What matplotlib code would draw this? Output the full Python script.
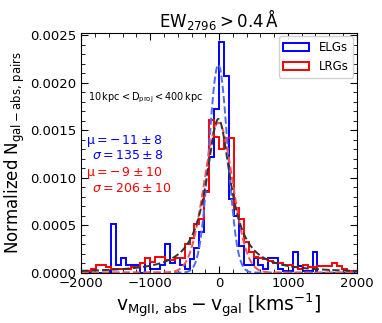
import numpy as np
import matplotlib
matplotlib.use("Agg")
from matplotlib import pyplot as plt
from matplotlib.ticker import MultipleLocator
from matplotlib.patches import Patch

# ============================== data ==============================
bin_edges = np.linspace(-2000, 2000, 57)

elg_hist = [0, 0, 0, 0, 0, 0,
            0.00051, 0.00008, 0.00015, 0.00008, 0.00008, 0.00008, 0.0,
            0.00015, 0.00004, 0.00004, 0.00008, 0.00030, 0.00010, 0.00015,
            0.00008, 0.00004, 0.00014, 0.00026, 0.00043, 0.00086, 0.00122,
            0.00172, 0.00243, 0.00207, 0.00078, 0.00060, 0.00028, 0.00008,
            0.00008, 0.00015, 0.00008, 0.00004, 0.00015, 0.00015, 0.00004,
            0.00002, 0.00002, 0.00022, 0.00007, 0.00002, 0.00002, 0.00022,
            0, 0, 0, 0, 0, 0, 0, 0]

lrg_hist = [0.00002, 0.00002, 0.00004, 0.00008, 0.00008, 0.00006,
            0.00004, 0.00004, 0.00004, 0.00004, 0.00006, 0.00006, 0.00010,
            0.00015, 0.00011, 0.00016, 0.00016, 0.00013, 0.00013, 0.00015,
            0.00015, 0.00030, 0.00036, 0.00051, 0.00057, 0.00085, 0.00161,
            0.00143, 0.00130, 0.00142, 0.00142, 0.00068, 0.00056, 0.00032,
            0.00022, 0.00016, 0.00015, 0.00014, 0.00012, 0.00010, 0.00010,
            0.00008, 0.00008, 0.00006, 0.00004, 0.00008, 0.00006, 0.00006,
            0.00007, 0.00007, 0.00007, 0.00010, 0.00007, 0.00004, 0.00002,
            0.00002]

# fit parameters (mu, sigma, peak height)
elg_fit = (-11, 135, 0.00219)
lrg_fit = (-9, 206, 0.00158)
lrg_lorentz = (-10, 215, 0.00162)   # centre, gamma, peak

# ==================================== plotting ========================================
fig = plt.figure(figsize=(3.82, 3.23), dpi=100)
ax = fig.add_axes([0.213, 0.156, 0.721, 0.743])

ax.stairs(elg_hist, bin_edges, color="blue", lw=1.4)
ax.stairs(lrg_hist, bin_edges, color="red", lw=1.4)

v = np.linspace(-2000, 2000, 800)
mu, sig, amp = elg_fit
ax.plot(v, amp * np.exp(-(v - mu) ** 2 / (2 * sig ** 2)), ls="--", color="#4d6cff", lw=1.4)
mu, sig, amp = lrg_fit
ax.plot(v, amp * np.exp(-(v - mu) ** 2 / (2 * sig ** 2)), ls="--", color="#ff5050", lw=1.4)
x0, gam, amp = lrg_lorentz
ax.plot(v, amp * gam ** 2 / (gam ** 2 + (v - x0) ** 2), ls="--", color="#333333", lw=1.4)

ax.set_xlim(-2000, 2000)
ax.set_ylim(0, 0.00253)
ax.xaxis.set_major_locator(MultipleLocator(1000))
ax.xaxis.set_minor_locator(MultipleLocator(200))
ax.yaxis.set_major_locator(MultipleLocator(0.0005))
ax.yaxis.set_minor_locator(MultipleLocator(0.0001))
ax.tick_params(which="both", direction="in", top=True, right=True, labelsize=9.5)
ax.tick_params(which="major", length=5)
ax.tick_params(which="minor", length=3)

ax.set_title(r"$\mathrm{EW_{2796} > 0.4\,\AA}$", fontsize=12, pad=4)
ax.set_xlabel(r"$\mathrm{v_{MgII,\,abs} - v_{gal}\;[kms^{-1}]}$", fontsize=13.5, labelpad=1)
ax.set_ylabel(r"Normalized $\mathrm{N_{gal-abs,\,pairs}}$", fontsize=12, labelpad=2)

ax.text(0.025, 0.728, r"$\mathrm{10\,kpc < D_{proj} < 400\,kpc}$", transform=ax.transAxes,
        fontsize=7, va="center")
ax.text(0.017, 0.550, r"$\mathrm{\mu = -\,11 \pm 8}$", transform=ax.transAxes,
        fontsize=9, color="blue", va="center")
ax.text(0.038, 0.490, r"$\sigma\mathrm{ = 135 \pm 8}$", transform=ax.transAxes,
        fontsize=9, color="blue", va="center")
ax.text(0.017, 0.414, r"$\mathrm{\mu = -\,9 \pm 10}$", transform=ax.transAxes,
        fontsize=9, color="red", va="center")
ax.text(0.038, 0.352, r"$\sigma\mathrm{ = 206 \pm 10}$", transform=ax.transAxes,
        fontsize=9, color="red", va="center")

handles = [Patch(facecolor="none", edgecolor="blue", lw=1.4, label="ELGs"),
           Patch(facecolor="none", edgecolor="red", lw=1.4, label="LRGs")]
ax.legend(handles=handles, loc="upper right", fontsize=8.5, handlelength=2.2,
          borderaxespad=0.3, framealpha=0.9)

fig.savefig("out.png", dpi=100)
